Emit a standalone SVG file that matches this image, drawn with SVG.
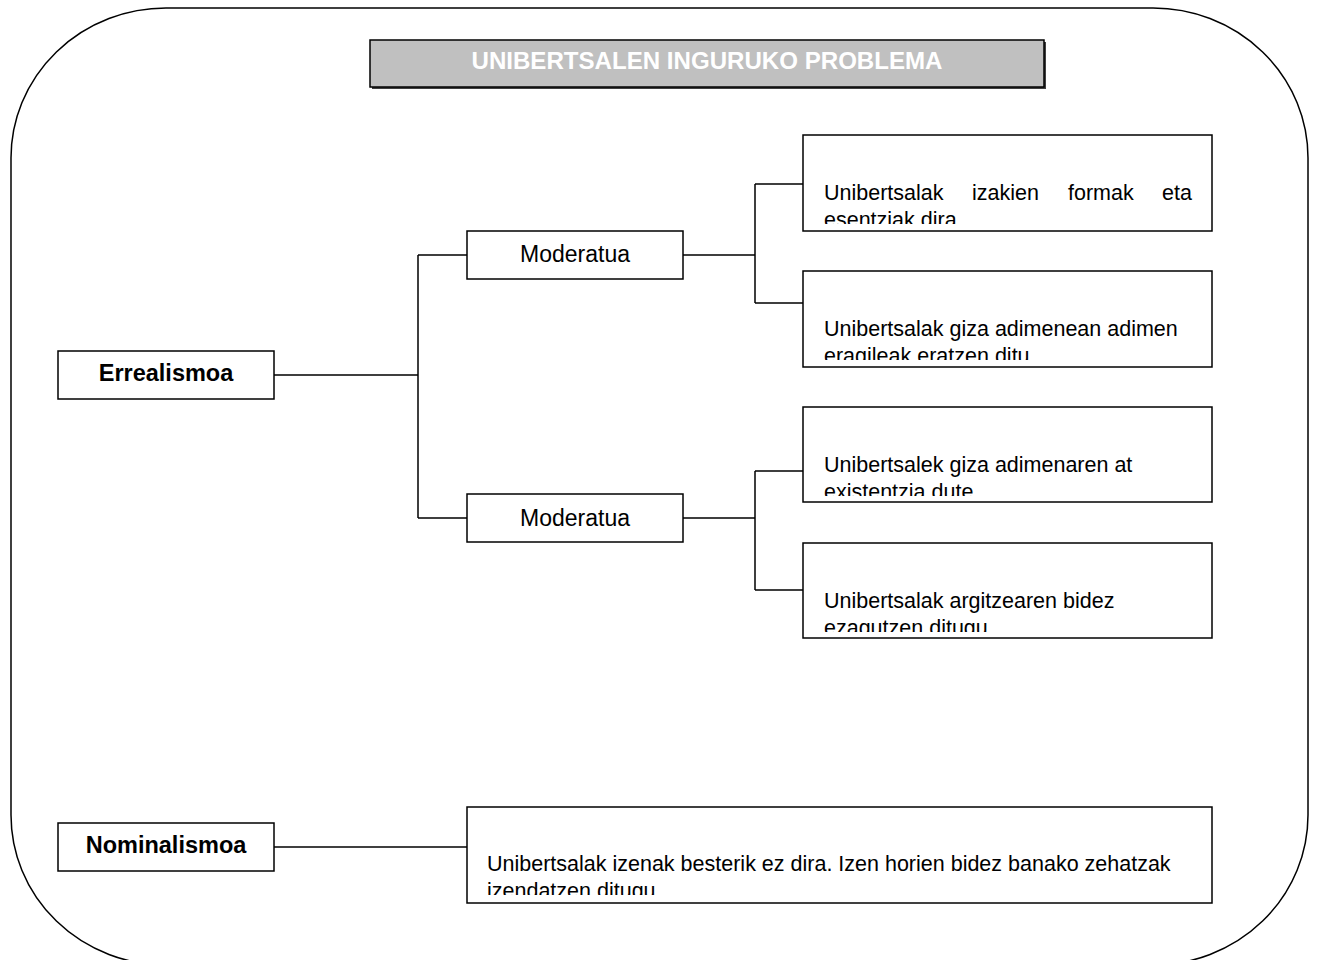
<svg xmlns="http://www.w3.org/2000/svg" width="1317" height="960" viewBox="0 0 1317 960">
<style>
.box{fill:#fff;stroke:#000;stroke-width:1.5}
.t{font-family:"Liberation Sans",Arial,sans-serif;fill:#000}
.b{font-weight:bold}
.c{text-anchor:middle}
.s{font-size:21.5px}
.ln{fill:none;stroke:#000;stroke-width:1.5}
</style>
<defs>
<clipPath id="c1"><rect x="803" y="135" width="409" height="89"/></clipPath>
<clipPath id="c2"><rect x="803" y="271" width="409" height="89"/></clipPath>
<clipPath id="c3"><rect x="803" y="407" width="409" height="89"/></clipPath>
<clipPath id="c4"><rect x="803" y="543" width="409" height="89"/></clipPath>
<clipPath id="c5"><rect x="467" y="807" width="745" height="88"/></clipPath>
</defs>
<rect x="11" y="8" width="1297" height="957" rx="155" ry="150" fill="#fff" stroke="#000" stroke-width="1.5"/>
<g id="title">
<rect x="372" y="42" width="674" height="47" fill="#404040"/>
<rect x="370" y="40" width="674" height="47" fill="#c0c0c0" stroke="#000" stroke-width="1.5"/>
<text class="t b c" x="707" y="69" font-size="23" textLength="471" lengthAdjust="spacingAndGlyphs" style="fill:#fff">UNIBERTSALEN INGURUKO PROBLEMA</text>
</g>
<g id="connectors">
<path class="ln" d="M274 375H418M418 255V518M418 255H467M418 518H467"/>
<path class="ln" d="M683 255H755M755 184V303M755 184H803M755 303H803"/>
<path class="ln" d="M683 518H755M755 471V590M755 471H803M755 590H803"/>
<path class="ln" d="M274 847H467"/>
</g>
<g id="errealismoa">
<rect class="box" x="58" y="351" width="216" height="48"/>
<text class="t b c" x="166" y="381" font-size="23.5">Errealismoa</text>
</g>
<g id="nominalismoa">
<rect class="box" x="58" y="823" width="216" height="48"/>
<text class="t b c" x="166" y="853" font-size="23.5">Nominalismoa</text>
</g>
<g id="moderatua1">
<rect class="box" x="467" y="231" width="216" height="48"/>
<text class="t c" x="575" y="262" font-size="23">Moderatua</text>
</g>
<g id="moderatua2">
<rect class="box" x="467" y="494" width="216" height="48"/>
<text class="t c" x="575" y="526" font-size="23">Moderatua</text>
</g>
<g id="n1">
<rect class="box" x="803" y="135" width="409" height="96"/>
<g clip-path="url(#c1)">
<text class="t s" y="200"><tspan x="824">Unibertsalak</tspan><tspan x="972">izakien</tspan><tspan x="1068">formak</tspan><tspan x="1162">eta</tspan></text>
<text class="t s" x="824" y="227">esentziak dira</text>
</g>
</g>
<g id="n2">
<rect class="box" x="803" y="271" width="409" height="96"/>
<g clip-path="url(#c2)">
<text class="t s" x="824" y="336">Unibertsalak giza adimenean adimen</text>
<text class="t s" x="824" y="363">eragileak eratzen ditu</text>
</g>
</g>
<g id="n3">
<rect class="box" x="803" y="407" width="409" height="95"/>
<g clip-path="url(#c3)">
<text class="t s" x="824" y="472">Unibertsalek giza adimenaren at</text>
<text class="t s" x="824" y="499">existentzia dute</text>
</g>
</g>
<g id="n4">
<rect class="box" x="803" y="543" width="409" height="95"/>
<g clip-path="url(#c4)">
<text class="t s" x="824" y="608">Unibertsalak argitzearen bidez</text>
<text class="t s" x="824" y="635">ezagutzen ditugu</text>
</g>
</g>
<g id="n5">
<rect class="box" x="467" y="807" width="745" height="96"/>
<g clip-path="url(#c5)">
<text class="t s" x="487" y="871">Unibertsalak izenak besterik ez dira. Izen horien bidez banako zehatzak</text>
<text class="t s" x="487" y="898">izendatzen ditugu</text>
</g>
</g>
</svg>
